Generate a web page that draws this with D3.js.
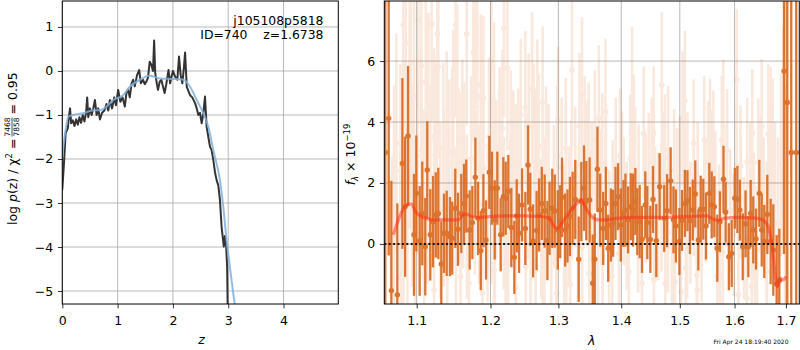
<!DOCTYPE html>
<html>
<head>
<meta charset="utf-8">
<script src="https://cdn.jsdelivr.net/npm/d3@7"></script>
<style>
  body { margin: 0; background: #fff; }
  svg { font-family: "DejaVu Sans", sans-serif; }
  .grid line { stroke: #b0b0b0; stroke-width: 0.9; }
</style>
</head>
<body>
<div id="chart"></div>
<script>
// redshift panel: [z, log p(z)]
const pzLine = [[0.0,-2.7],[0.03,-2.1],[0.06,-1.42],[0.1,-1.3],[0.12,-1.04],[0.14,-0.85],[0.16,-1.19],[0.19,-1.12],
  [0.22,-1.25],[0.25,-1.1],[0.28,-1.22],[0.31,-1.05],[0.34,-1.18],[0.37,-1.0],[0.4,-1.15],[0.43,-0.95],[0.45,-0.6],
  [0.47,-1.05],[0.5,-0.85],[0.53,-1.0],[0.56,-0.85],[0.59,-0.66],[0.62,-1.0],[0.65,-0.85],[0.68,-1.1],[0.72,-0.95],
  [0.76,-0.9],[0.8,-0.75],[0.83,-0.9],[0.86,-0.66],[0.9,-0.85],[0.94,-0.6],[0.97,-0.78],[1.01,-0.43],[1.05,-0.7],
  [1.09,-0.6],[1.13,-0.81],[1.16,-0.5],[1.19,-0.43],[1.22,-0.6],[1.25,-0.3],[1.28,-0.2],[1.31,-0.35],[1.35,-0.1],
  [1.39,0.02],[1.42,-0.28],[1.46,-0.2],[1.49,-0.3],[1.52,-0.24],[1.55,-0.15],[1.58,0.21],[1.61,0.14],[1.64,0.0],
  [1.66,0.69],[1.68,-0.05],[1.71,-0.3],[1.73,-0.43],[1.76,-0.25],[1.79,-0.2],[1.82,-0.35],[1.85,-0.5],[1.88,-0.3],
  [1.92,0.02],[1.95,-0.28],[1.98,-0.1],[2.0,0.0],[2.04,-0.13],[2.08,-0.2],[2.11,0.33],[2.14,-0.1],[2.17,-0.28],
  [2.2,0.1],[2.22,0.42],[2.25,-0.36],[2.31,-0.55],[2.35,-0.6],[2.4,-0.73],[2.43,-0.85],[2.46,-1.0],[2.49,-0.95],
  [2.52,-1.19],[2.55,-0.96],[2.58,-0.58],[2.61,-1.27],[2.64,-1.5],[2.67,-1.72],[2.7,-1.8],[2.73,-2.02],[2.76,-2.3],
  [2.79,-2.48],[2.82,-2.6],[2.85,-2.93],[2.88,-3.54],[2.92,-3.99],[2.94,-3.75],[2.96,-3.92],[2.98,-4.45],[2.99,-5.4]];

const pzSmooth = [[0,-1.95],[0.05,-1.42],[0.11,-1.04],[0.2,-1.0],[0.38,-0.96],[0.56,-0.89],[0.68,-0.89],[0.8,-0.81],
  [0.92,-0.66],[1.1,-0.55],[1.22,-0.36],[1.4,-0.2],[1.58,-0.11],[1.76,-0.17],[2.0,-0.18],[2.19,-0.2],[2.31,-0.36],
  [2.43,-0.66],[2.55,-0.96],[2.64,-1.27],[2.73,-1.8],[2.85,-2.48],[2.91,-3.08],[2.97,-3.84],[3.03,-4.45],[3.09,-5.05],
  [3.13,-5.4]];

const zTicks = [0, 1, 2, 3, 4];
const pTicks = [-5, -4, -3, -2, -1, 0, 1];

// spectrum panel: [lambda, flux, err]
const specBinned = [[1.0600,3,10],[1.0643,4.12,4.5],[1.0676,-1.53,3.6],[1.0752,-1.67,3.0],[1.0816,2.64,2.8],[1.0851,1.22,2.3],
  [1.0889,3.54,2.3],[1.0965,0.3,2.0],[1.0995,1.66,1.9],[1.1039,0.1,1.8],[1.1073,1.0,1.7],[1.1112,-0.09,1.6],
  [1.1138,2.43,1.6],[1.1178,0.3,1.5],[1.1214,0.73,1.5],[1.1250,0.95,1.4],[1.1284,1.0,1.5],[1.1324,-0.66,1.4],
  [1.1360,0.35,1.3],[1.1396,0.35,1.4],[1.1440,0.24,1.3],[1.1471,0.19,1.2],[1.1512,1.17,1.3],[1.1549,0.48,1.2],
  [1.1594,1.0,1.3],[1.1631,1.33,1.3],[1.1662,1.57,1.2],[1.1709,0.46,1.3],[1.1746,0.7,1.2],[1.1788,2.19,1.3],
  [1.1825,0.84,1.2],[1.1863,-0.22,1.3],[1.1900,1.09,1.2],[1.1937,0.13,1.3],[1.1983,2.35,1.2],[1.2021,1.83,1.2],
  [1.2060,0.79,1.3],[1.2097,1.83,1.2],[1.2145,0.3,1.2],[1.2183,1.55,1.3],[1.2217,1.5,1.2],[1.2255,1.72,1.2],
  [1.2298,0.54,1.3],[1.2342,-0.44,1.2],[1.2377,0.92,1.2],[1.2411,0.35,1.3],[1.2455,1.28,1.2],
  [1.2503,0.51,1.2],[1.2543,2.59,1.3],[1.2576,1.14,1.2],[1.2618,0.1,1.2],[1.2670,0.44,1.3],[1.2707,0.95,1.2],
  [1.2748,1.33,1.2],[1.2791,1.08,1.2],[1.2833,0.11,1.3],[1.2865,0.84,1.2],[1.2906,1.17,1.3],[1.2944,1.08,1.2],
  [1.2991,0.46,1.3],[1.3028,0.73,1.2],[1.3056,1.53,1.3],[1.3104,0.46,1.2],[1.3140,0.59,1.2],[1.3178,0.9,1.3],
  [1.3220,1.17,1.2],[1.3261,1.46,1.3],[1.3315,-0.5,1.4],[1.3356,1.39,1.3],[1.3399,1.83,1.4],[1.3435,1.42,1.3],
  [1.3488,1.44,1.4],[1.3537,-1.29,1.6],[1.3569,-0.5,1.5],[1.3612,2.45,1.4],[1.3656,1.11,1.2],[1.3705,0.51,1.2],
  [1.3748,1.33,1.2],[1.3786,-0.14,1.1],[1.3830,0.62,1.2],[1.3867,0.68,1.1],[1.3905,1.33,1.2],[1.3948,1.55,1.1],
  [1.3993,0.62,1.2],[1.4036,1.0,1.1],[1.4069,1.11,1.2],[1.4113,0.79,1.1],[1.4158,1.22,1.1],[1.4196,1.11,1.2],
  [1.4234,1.39,1.1],[1.4267,0.73,1.1],[1.4307,0.73,1.2],[1.4346,0.15,1.1],[1.4402,1.28,1.1],[1.4436,0.7,1.2],
  [1.4488,0.15,1.1],[1.4534,1.46,1.1],[1.4590,0.11,1.2],[1.4648,1.88,1.1],
  [1.4727,0.84,1.1],[1.4777,1.09,1.2],[1.4839,2.07,1.1],[1.4889,0.79,1.1],[1.4931,0.59,1.2],[1.4993,0.08,1.1],
  [1.5039,0.77,1.0],[1.5090,1.33,1.1],[1.5136,1.42,1.0],[1.5180,0.77,1.1],[1.5231,1.11,1.0],[1.5276,1.64,1.1],
  [1.5332,0.13,1.0],[1.5374,1.14,1.1],[1.5421,1.14,1.0],[1.5471,0.59,1.1],[1.5531,1.66,1.0],[1.5575,1.28,1.1],
  [1.5623,1.22,1.0],[1.5678,-0.14,1.1],[1.5727,0.73,1.0],[1.5793,2.12,1.1],[1.5833,1.04,1.0],[1.5893,-0.42,1.1],
  [1.5946,-0.31,1.1],[1.6005,1.5,1.0],[1.6054,1.46,1.1],[1.6101,1.11,1.0],[1.6155,-0.09,1.1],[1.6209,0.66,1.1],
  [1.6262,-0.09,1.0],[1.6307,1.0,1.1],[1.6357,0.46,1.1],[1.6410,0.16,1.0],[1.6474,1.66,1.1],[1.6521,0.46,1.2],
  [1.6571,0.08,1.2],[1.6630,0.97,1.3],[1.6696,0.08,1.4],[1.6748,-0.2,1.5],[1.6814,-1.31,1.6],[1.6867,-1.2,1.7],
  [1.6960,5.67,6],[1.7026,4.64,8],[1.7106,3,10],[1.7207,3,10]];

const specPixels = [[1.0828,7.18,3.5],[1.0859,6.58,3.5],[1.0923,5.98,3.4],[1.0910,5.54,3.3],[1.0965,4.83,3.2],
  [1.1021,7.34,3.4],[1.1061,5.84,3.2],[1.1118,5.32,3.0],[1.1152,4.58,3.0],[1.1196,7.21,3.2],[1.1271,6.9,3.1],
  [1.1284,5.81,3.0],[1.1227,3.52,2.9],[1.1263,3.41,2.8],[1.1351,3.14,2.8],[1.1396,3.52,2.8],[1.1485,4.23,2.8],
  [1.1517,7.18,3.0],[1.1539,5.05,2.8],[1.1608,3.36,2.7],[1.1668,6.89,3.0],[1.1631,2.7,2.6],[1.1760,6.28,2.9],
  [1.1780,7.43,3.0],[1.1816,5.21,2.8],[1.1863,4.83,2.7],[1.1900,4.78,2.7],[1.1891,3.23,2.6],[1.1979,3.52,2.6],
  [1.2012,5.98,2.8],[1.2050,4.67,2.6],[1.2122,2.54,2.5],[1.2169,3.79,2.6],[1.2193,7.07,2.9],[1.2241,5.76,2.7],
  [1.2289,3.19,2.5],[1.2327,2.54,2.5],[1.2436,4.23,2.5],
  [1.0688,-0.63,3.5],[1.0795,-1.13,3.4],[1.1096,-0.96,3.0],[1.1227,-1.51,2.9],[1.1404,-0.36,2.8],[1.1585,-1.07,2.7],
  [1.1699,-1.29,2.7],[1.1886,-1.62,2.6],[1.2050,-0.85,2.6],[1.2217,-0.63,2.5],[1.2363,-1.4,2.5],[1.2062,-0.09,2.5],
  [1.071,1.6,3.6],[1.079,2.4,3.5],[1.088,0.6,3.4],[1.094,1.9,3.3],[1.101,2.9,3.2],[1.109,1.4,3.0],[1.118,2.2,3.0],
  [1.131,1.1,2.9],[1.143,2.6,2.8],[1.152,0.4,2.8],[1.162,1.9,2.7],[1.173,2.8,2.7],[1.184,1.3,2.6],[1.196,0.7,2.6],
  [1.208,2.1,2.6],[1.219,1.0,2.5],[1.231,1.7,2.5],[1.240,2.6,2.5],
  [1.074,3.3,3.6],[1.083,0.2,3.5],[1.091,3.9,3.4],[1.098,-0.3,3.3],[1.106,3.1,3.2],[1.114,1.8,3.1],[1.124,2.9,3.0],
  [1.136,1.5,2.9],[1.147,3.0,2.8],[1.157,2.2,2.8],[1.167,0.9,2.7],[1.178,1.7,2.7],[1.190,2.5,2.6],[1.201,1.3,2.6],
  [1.213,3.2,2.6],[1.225,0.4,2.5],[1.236,2.1,2.5],
  [1.2603,5.1,2.5],[1.2681,4.31,2.4],[1.2760,4.64,2.5],[1.2503,4.48,2.5],[1.2553,3.85,2.4],[1.3210,5.7,2.6],
  [1.3367,4.94,2.5],[1.3742,4.34,2.4],[1.3635,4.12,2.4],[1.3325,3.87,2.4],[1.2995,4.07,2.4],[1.2629,3.63,2.3],
  [1.3113,3.14,2.3],[1.3472,2.99,2.3],[1.4207,3.36,2.2],[1.4375,3.63,2.2],[1.4180,4.72,2.4],[1.4546,3.63,2.2],
  [1.2812,2.86,2.3],[1.3689,2.64,2.3],[1.4014,2.15,2.2],[1.4290,1.83,2.1],
  [1.2510,-0.74,2.4],[1.2655,-0.85,2.4],[1.2786,-1.07,2.3],[1.2968,-0.74,2.3],[1.3120,-1.29,2.4],[1.3183,-1.34,2.4],
  [1.3480,-0.96,2.3],[1.3851,-1.07,2.2],[1.4124,-0.91,2.2],[1.4346,-1.29,2.2],[1.4550,-1.18,2.2],[1.2765,-1.51,2.3],
  [1.2975,-1.62,2.3],[1.3370,-0.09,2.2],[1.3695,-0.42,2.2],[1.3960,-0.31,2.1],
  [1.254,1.9,2.4],[1.266,2.7,2.4],[1.274,0.5,2.3],[1.285,2.3,2.3],[1.293,1.6,2.3],[1.305,2.5,2.3],[1.316,0.9,2.3],
  [1.326,2.2,2.3],[1.341,3.1,2.4],[1.352,1.7,2.3],[1.362,0.3,2.3],[1.375,2.4,2.2],[1.386,1.2,2.2],[1.398,2.9,2.2],
  [1.409,0.6,2.1],[1.423,2.4,2.1],[1.441,1.5,2.1],[1.451,2.7,2.1],[1.462,0.9,2.1],
  [1.258,0.2,2.4],[1.270,3.2,2.4],[1.280,1.2,2.3],[1.289,-0.2,2.3],[1.298,2.9,2.3],[1.309,0.3,2.3],[1.320,1.8,2.3],
  [1.330,0.4,2.3],[1.345,2.3,2.4],[1.357,3.4,2.3],[1.367,1.5,2.2],[1.380,0.2,2.2],[1.391,2.6,2.2],[1.404,1.4,2.1],
  [1.415,2.8,2.1],[1.428,0.5,2.1],[1.446,2.2,2.1],[1.457,1.1,2.1],
  [1.4685,5.21,2.4],[1.5090,4.69,2.3],[1.5051,4.12,2.2],[1.5248,3.3,2.1],[1.5439,3.41,2.1],[1.5544,3.32,2.1],
  [1.5761,3.41,2.1],[1.5790,3.85,2.2],[1.5605,3.03,2.0],[1.6041,5.4,2.3],[1.5861,3.08,2.0],[1.6113,2.54,2.0],
  [1.6338,3.63,2.1],[1.6521,3.87,2.2],[1.6650,3.6,2.3],[1.6696,3.41,2.4],[1.6736,2.92,2.5],[1.6455,2.67,2.1],
  [1.4796,3.08,2.1],[1.4900,2.43,2.0],[1.5136,2.32,2.0],[1.4715,2.32,2.0],
  [1.4889,-0.74,2.0],[1.5107,-0.8,2.0],[1.5304,-1.02,2.0],[1.5678,-1.07,2.0],[1.5727,-1.07,2.0],[1.6074,-1.67,2.1],
  [1.6233,-1.78,2.1],[1.4746,-1.29,2.1],[1.4914,-1.24,2.0],[1.5310,-1.51,2.1],[1.6388,-0.96,2.1],[1.6618,-0.91,2.3],
  [1.5021,-1.56,2.1],[1.6326,-1.4,2.1],
  [1.468,1.2,2.1],[1.479,0.4,2.0],[1.495,1.8,2.0],[1.507,2.6,2.0],[1.519,0.7,2.0],[1.532,2.0,2.0],[1.546,1.4,2.0],
  [1.558,2.4,2.0],[1.571,0.6,2.0],[1.585,1.9,2.0],[1.598,0.3,2.0],[1.612,1.5,2.0],[1.624,2.7,2.1],[1.637,0.9,2.1],
  [1.650,2.0,2.2],[1.662,0.4,2.3],[1.678,1.4,2.6],[1.690,2.6,3.0],[1.698,1.2,4.0],
  [1.474,2.8,2.1],[1.486,-0.1,2.0],[1.500,2.2,2.0],[1.513,0.2,2.0],[1.525,1.6,2.0],[1.539,0.1,2.0],[1.551,2.7,2.0],
  [1.564,1.7,2.0],[1.578,-0.3,2.0],[1.592,1.1,2.0],[1.604,2.6,2.0],[1.618,0.2,2.0],[1.630,1.9,2.1],[1.643,-0.2,2.1],
  [1.656,1.3,2.2],[1.668,2.3,2.4],[1.684,0.7,2.8],[1.694,3.6,3.5]];

const specModel = [[1.0701,0.3],[1.0765,0.79],[1.0828,1.14],[1.0892,1.31],[1.0936,1.31],[1.0978,1.09],[1.1043,0.92],
  [1.1131,0.84],[1.1218,0.79],[1.1307,0.79],[1.1440,0.79],[1.1553,0.79],[1.1621,0.95],[1.1668,0.98],[1.1737,0.9],
  [1.1853,0.87],[1.1993,0.9],[1.2232,0.92],[1.2474,0.92],[1.2729,0.9],[1.2859,0.84],[1.2937,0.57],[1.2991,0.51],
  [1.3066,0.73],[1.3178,1.06],[1.3284,1.33],[1.3347,1.46],[1.3414,1.22],[1.3520,0.9],[1.3623,0.79],[1.3760,0.79],
  [1.3923,0.84],[1.4147,0.87],[1.4596,0.87],[1.5180,0.9],[1.5484,0.92],[1.5605,0.81],[1.5696,0.77],[1.5793,0.84],
  [1.6113,0.87],[1.6455,0.84],[1.6618,0.66],[1.6682,0.35],[1.6736,-0.2],[1.6781,-0.96],[1.6827,-1.4],[1.6880,-1.13],
  [1.6946,-1.18],[1.7000,-1.07]];

const lamTicks = [1.1, 1.2, 1.3, 1.4, 1.5, 1.6, 1.7];
const fluxTicks = [0, 2, 4, 6];

const WIDTH = 800, HEIGHT = 350;
const left = {x0: 62.3, x1: 338.3, y0: 1, y1: 304};
const right = {x0: 384.3, x1: 799.3, y0: 1, y1: 304};
const darkOrange = "#d9691f";
const FS = 12.5;

let svg = d3.select("#chart").append("svg")
    .attr("width", WIDTH)
    .attr("height", HEIGHT);

let defs = svg.append("defs");
defs.append("clipPath").attr("id", "clipL").append("rect")
    .attr("x", left.x0).attr("y", left.y0)
    .attr("width", left.x1 - left.x0).attr("height", left.y1 - left.y0);
defs.append("clipPath").attr("id", "clipR").append("rect")
    .attr("x", right.x0).attr("y", right.y0)
    .attr("width", right.x1 - right.x0).attr("height", right.y1 - right.y0);

// ---------- left panel ----------
let xz = d3.scaleLinear().domain([0, 4.99]).range([left.x0, left.x1]);
let yp = d3.scaleLinear().domain([-5.295, 1.59]).range([left.y1, left.y0]);

let gridL = svg.append("g").attr("class", "grid");
gridL.selectAll(".vx").data(zTicks).enter().append("line")
    .attr("x1", d => xz(d)).attr("x2", d => xz(d))
    .attr("y1", left.y0).attr("y2", left.y1);
gridL.selectAll(".hy").data(pTicks).enter().append("line")
    .attr("x1", left.x0).attr("x2", left.x1)
    .attr("y1", d => yp(d)).attr("y2", d => yp(d));

let plotL = svg.append("g").attr("clip-path", "url(#clipL)");
plotL.append("path")
    .datum(pzLine)
    .attr("fill", "none")
    .attr("stroke", "#333333")
    .attr("stroke-width", 2)
    .attr("stroke-linejoin", "round")
    .attr("d", d3.line().x(d => xz(d[0])).y(d => yp(d[1])));
plotL.append("path")
    .datum(pzSmooth)
    .attr("fill", "none")
    .attr("stroke", "#7fb1dc")
    .attr("stroke-opacity", 0.85)
    .attr("stroke-width", 2)
    .attr("d", d3.line().curve(d3.curveMonotoneX).x(d => xz(d[0])).y(d => yp(d[1])));

svg.append("g")
    .attr("transform", `translate(0,${left.y1})`)
    .call(d3.axisBottom(xz).tickValues(zTicks).tickFormat(d3.format("d")).tickSize(4.4).tickPadding(7.7))
    .call(styleAxis);
svg.append("g")
    .attr("transform", `translate(${left.x0},0)`)
    .call(d3.axisLeft(yp).tickValues(pTicks).tickFormat(d => d3.format("d")(d)).tickSize(4.4).tickPadding(4.6))
    .call(styleAxis);
frame(left);

svg.append("text")
    .attr("x", 323.5).attr("y", 25)
    .attr("text-anchor", "end")
    .style("font-size", "12.4px")
    .text("j105108p5818");
svg.append("text")
    .attr("x", 323.5).attr("y", 38.5)
    .attr("text-anchor", "end")
    .style("font-size", "12.4px")
    .style("white-space", "pre")
    .text("ID=740    z=1.6738");

svg.append("text")
    .attr("x", 201.5).attr("y", 344)
    .attr("text-anchor", "middle")
    .style("font-size", FS + "px")
    .style("font-style", "italic")
    .text("z");

let ylab = svg.append("g").attr("transform", "translate(17,152.5) rotate(-90)");
let t1 = ylab.append("text").attr("x", 14).attr("y", 0)
    .attr("text-anchor", "end").style("font-size", FS + "px");
t1.append("tspan").text("log ");
t1.append("tspan").style("font-style", "italic").text("p");
t1.append("tspan").text("(z) / χ");
t1.append("tspan").attr("dy", -5).style("font-size", "8.5px").text("2");
t1.append("tspan").attr("dy", 5).text(" =");
ylab.append("text").attr("x", 25.5).attr("y", -6.6)
    .attr("text-anchor", "middle").style("font-size", "7.5px").text("7468");
ylab.append("line").attr("x1", 16).attr("x2", 35).attr("y1", -5).attr("y2", -5)
    .attr("stroke", "#000").attr("stroke-width", 0.7);
ylab.append("text").attr("x", 25.5).attr("y", 1.8)
    .attr("text-anchor", "middle").style("font-size", "7.5px").text("7858");
ylab.append("text").attr("x", 38).attr("y", 0)
    .attr("text-anchor", "start").style("font-size", FS + "px")
    .style("white-space", "pre").text("= 0.95");

// ---------- right panel ----------
let xl = d3.scaleLog().domain([1.0588, 1.7269]).range([right.x0, right.x1]);
let yf = d3.scaleLinear().domain([-1.97, 7.97]).range([right.y1, right.y0]);

let gridR = svg.append("g").attr("class", "grid");
gridR.selectAll(".vx").data(lamTicks).enter().append("line")
    .attr("x1", d => xl(d)).attr("x2", d => xl(d))
    .attr("y1", right.y0).attr("y2", right.y1);
gridR.selectAll(".hy").data(fluxTicks).enter().append("line")
    .attr("x1", right.x0).attr("x2", right.x1)
    .attr("y1", d => yf(d)).attr("y2", d => yf(d));

let plotR = svg.append("g").attr("clip-path", "url(#clipR)");

let faint = plotR.append("g").attr("opacity", 0.15);
faint.selectAll("line").data(specPixels).enter().append("line")
    .attr("x1", d => xl(d[0])).attr("x2", d => xl(d[0]))
    .attr("y1", d => yf(d[1] - d[2])).attr("y2", d => yf(d[1] + d[2]))
    .attr("stroke", darkOrange).attr("stroke-width", 2.6);
faint.selectAll("circle").data(specPixels).enter().append("circle")
    .attr("cx", d => xl(d[0])).attr("cy", d => yf(d[1])).attr("r", 2.8)
    .attr("fill", darkOrange);

let dark = plotR.append("g").attr("opacity", 0.92);
dark.selectAll("line").data(specBinned).enter().append("line")
    .attr("x1", d => xl(d[0])).attr("x2", d => xl(d[0]))
    .attr("y1", d => yf(d[1] - d[2])).attr("y2", d => yf(d[1] + d[2]))
    .attr("stroke", darkOrange).attr("stroke-width", 2.3);
dark.selectAll("circle").data(specBinned).enter().append("circle")
    .attr("cx", d => xl(d[0])).attr("cy", d => yf(d[1])).attr("r", 2.7)
    .attr("fill", darkOrange);

plotR.append("path")
    .datum(specModel)
    .attr("fill", "none")
    .attr("stroke", "#ff2a10")
    .attr("stroke-opacity", 0.5)
    .attr("stroke-width", 3.2)
    .attr("stroke-linejoin", "round")
    .attr("d", d3.line().curve(d3.curveMonotoneX).x(d => xl(d[0])).y(d => yf(d[1])));

plotR.append("line")
    .attr("x1", right.x0).attr("x2", right.x1)
    .attr("y1", yf(0)).attr("y2", yf(0))
    .attr("stroke", "#111").attr("stroke-width", 2)
    .attr("stroke-dasharray", "2,2.4");

svg.append("g")
    .attr("transform", `translate(0,${right.y1})`)
    .call(d3.axisBottom(xl).tickValues(lamTicks).tickFormat(d3.format(".1f")).tickSize(4.4).tickPadding(7.7))
    .call(styleAxis);
svg.append("g")
    .attr("transform", `translate(${right.x0},0)`)
    .call(d3.axisLeft(yf).tickValues(fluxTicks).tickFormat(d3.format("d")).tickSize(4.4).tickPadding(4.6))
    .call(styleAxis);
frame(right);

svg.append("text")
    .attr("x", 591.7).attr("y", 345)
    .attr("text-anchor", "middle")
    .style("font-size", FS + "px")
    .style("font-style", "italic")
    .text("λ");

let flab = svg.append("g").attr("transform", "translate(355,154.5) rotate(-90)")
    .append("text").attr("x", 0).attr("y", 0)
    .attr("text-anchor", "middle").style("font-size", FS + "px");
flab.append("tspan").style("font-style", "italic").text("f");
flab.append("tspan").attr("dy", 2.5).style("font-size", "8.5px").style("font-style", "italic").text("λ");
flab.append("tspan").attr("dy", -2.5).text(" × 10");
flab.append("tspan").attr("dy", -5).style("font-size", "8.5px").text("−19");

svg.append("text")
    .attr("x", 788.5).attr("y", 343.5)
    .attr("text-anchor", "end")
    .style("font-size", "6px")
    .text("Fri Apr 24 18:19:40 2020");

function styleAxis(g) {
    g.select(".domain").remove();
    g.selectAll(".tick line").attr("stroke", "#000").attr("stroke-width", 0.8);
    g.selectAll(".tick text")
        .attr("fill", "#000")
        .style("font-family", "DejaVu Sans")
        .style("font-size", FS + "px");
}

function frame(b) {
    svg.append("rect")
        .attr("x", b.x0).attr("y", b.y0)
        .attr("width", b.x1 - b.x0).attr("height", b.y1 - b.y0)
        .attr("fill", "none")
        .attr("stroke", "#000")
        .attr("stroke-width", 1);
}
</script>
</body>
</html>
